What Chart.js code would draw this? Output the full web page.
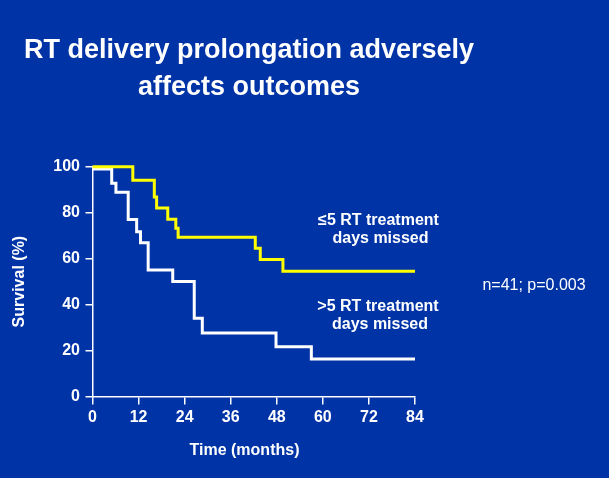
<!DOCTYPE html>
<html>
<head>
<meta charset="utf-8">
<script src="https://cdn.jsdelivr.net/npm/chart.js@4.4.1/dist/chart.umd.min.js"></script>
<style>
  html, body { margin: 0; padding: 0; background: #0033A6; }
  #wrap { width: 609px; height: 478px; position: relative; }
</style>
</head>
<body>
<div id="wrap"><canvas id="c" width="609" height="478"></canvas></div>
<script>
// ---- data ----
const titleLines = ["RT delivery prolongation adversely", "affects outcomes"];
const xTitle = "Time (months)";
const yTitle = "Survival (%)";
const xTicks = [0, 12, 24, 36, 48, 60, 72, 84];
const yTicks = [0, 20, 40, 60, 80, 100];

const lowMissedLabel = ["\u22645 RT treatment", "days missed"];
const lowMissedTimes = [0, 10.5, 16.1, 16.7, 19.6, 21.7, 22.3, 42.4, 43.7, 49.6, 84];
const lowMissedSurv  = [100, 94.1, 86.8, 82.0, 77.1, 73.2, 69.3, 64.5, 59.6, 54.5, 54.5];

const highMissedLabel = [">5 RT treatment", "days missed"];
const highMissedTimes = [0, 5.0, 6.1, 9.3, 11.5, 12.5, 14.5, 20.9, 26.5, 28.6, 47.8, 57.0, 84];
const highMissedSurv  = [99, 92.8, 88.9, 77.0, 71.7, 66.9, 55.1, 50.0, 34.1, 27.6, 21.7, 16.3, 16.3];

const statsText = "n=41; p=0.003";

// ---- build chart ----
const FONT = "Arial, 'Liberation Sans', Helvetica, sans-serif";
const toPts = (xs, ys) => xs.map((x, i) => ({ x: x, y: ys[i] }));

const textPlugin = {
  id: 'texts',
  afterDraw(chart) {
    const ctx = chart.ctx;
    ctx.save();
    ctx.fillStyle = '#FFFFFF';
    ctx.textAlign = 'center';
    ctx.textBaseline = 'alphabetic';
    ctx.font = "bold 27px " + FONT;
    ctx.fillText(titleLines[0], 249, 58);
    ctx.fillText(titleLines[1], 249, 95);

    ctx.font = "bold 16px " + FONT;
    ctx.fillText(lowMissedLabel[0], 378.5, 225);
    ctx.fillText(lowMissedLabel[1], 380.5, 243);
    ctx.fillText(highMissedLabel[0], 378, 311);
    ctx.fillText(highMissedLabel[1], 380, 329);
    ctx.fillText(xTitle, 244.5, 455);

    ctx.font = "16px " + FONT;
    ctx.fillText(statsText, 534, 290);
    ctx.restore();
  }
};

const bgPlugin = {
  id: 'bg',
  beforeDraw(chart) {
    const ctx = chart.ctx;
    ctx.save();
    ctx.fillStyle = '#0033A6';
    ctx.fillRect(0, 0, chart.width, chart.height);
    ctx.restore();
  }
};

new Chart(document.getElementById('c'), {
  type: 'line',
  data: {
    datasets: [
      {
        label: lowMissedLabel.join(' '),
        data: toPts(lowMissedTimes, lowMissedSurv),
        borderColor: '#FFFF00',
        borderWidth: 3,
        stepped: true,
        pointRadius: 0,
        fill: false,
        clip: false,
        borderCapStyle: 'butt',
        borderJoinStyle: 'miter'
      },
      {
        label: highMissedLabel.join(' '),
        data: toPts(highMissedTimes, highMissedSurv),
        borderColor: '#FFFFFF',
        borderWidth: 3,
        stepped: true,
        pointRadius: 0,
        fill: false,
        clip: false,
        borderCapStyle: 'butt',
        borderJoinStyle: 'miter'
      }
    ]
  },
  options: {
    responsive: false,
    animation: false,
    devicePixelRatio: 1,
    layout: { padding: { top: 166.7, left: 0, right: 194, bottom: 0 } },
    plugins: {
      legend: { display: false },
      tooltip: { enabled: false },
      title: { display: false }
    },
    scales: {
      x: {
        type: 'linear',
        min: 0, max: 84,
        afterBuildTicks(scale) { scale.ticks = xTicks.map(v => ({ value: v })); },
        afterFit(scale) { scale.height = 478 - 396.5; },
        ticks: {
          color: '#FFFFFF',
          font: { family: FONT, size: 16, weight: 'bold' },
          padding: 3,
          maxRotation: 0,
          autoSkip: false
        },
        grid: { display: true, drawOnChartArea: false, drawTicks: true, tickLength: 8, color: '#FFFFFF', lineWidth: 1.5 },
        border: { display: true, color: '#FFFFFF', width: 1.5 },
        title: { display: false }
      },
      y: {
        type: 'linear',
        min: 0, max: 100,
        afterBuildTicks(scale) { scale.ticks = yTicks.map(v => ({ value: v })); },
        afterFit(scale) { scale.width = 92.5; },
        ticks: {
          color: '#FFFFFF',
          font: { family: FONT, size: 16, weight: 'bold' },
          padding: 5.5,
          autoSkip: false
        },
        grid: { display: true, drawOnChartArea: false, drawTicks: true, tickLength: 7, color: '#FFFFFF', lineWidth: 1.5 },
        border: { display: true, color: '#FFFFFF', width: 1.5 },
        title: {
          display: true,
          text: yTitle,
          color: '#FFFFFF',
          font: { family: FONT, size: 16, weight: 'bold' },
          padding: { top: 10, bottom: 0 }
        }
      }
    }
  },
  plugins: [bgPlugin, textPlugin]
});
</script>
</body>
</html>
